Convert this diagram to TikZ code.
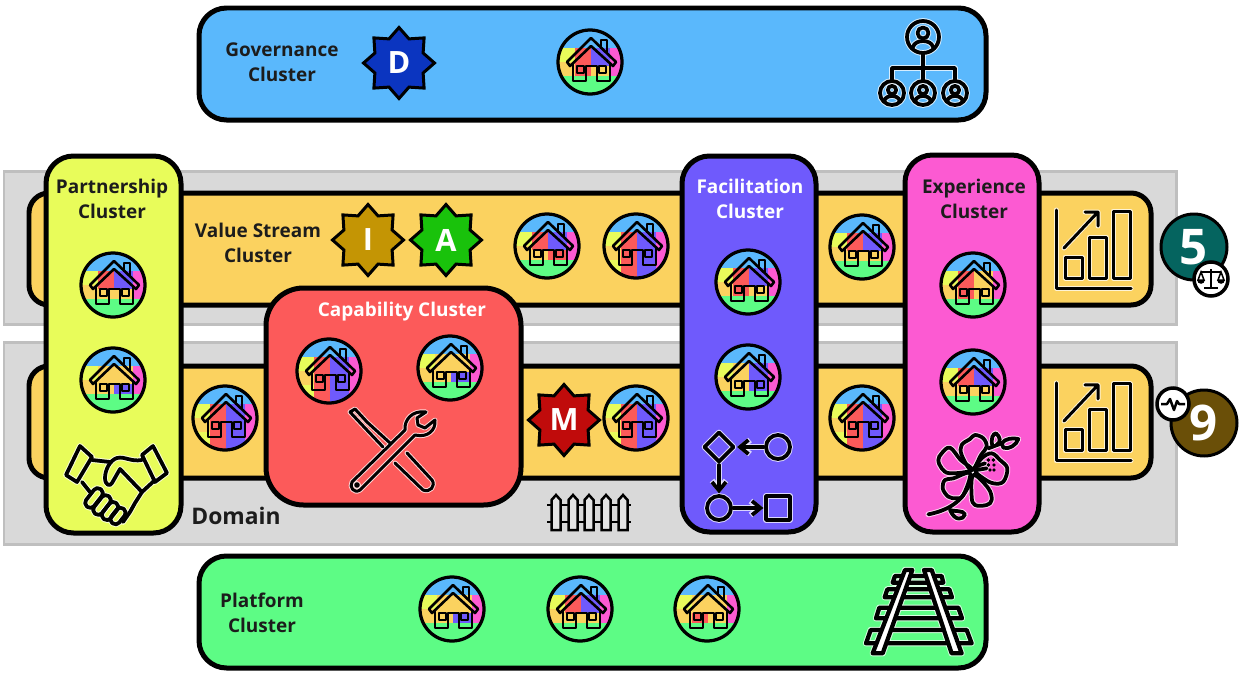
\documentclass[tikz,border=0pt]{standalone}
\usepackage{fontspec}
\setmainfont{Open Sans}
\usepackage{xcolor}
\usetikzlibrary{arrows.meta,shapes.geometric}
\definecolor{bluex}{HTML}{5AB8FC}
\definecolor{orangex}{HTML}{FBD25F}
\definecolor{yellowx}{HTML}{E8FC5A}
\definecolor{redx}{HTML}{FC5A5A}
\definecolor{purplex}{HTML}{6F5AFC}
\definecolor{pinkx}{HTML}{FC5AD2}
\definecolor{greenx}{HTML}{5DFC85}
\definecolor{greyx}{HTML}{D9D9D9}
\definecolor{greyline}{HTML}{BFBFBF}
\definecolor{inkx}{HTML}{1C1C1C}
\definecolor{badgeblue}{HTML}{0B35C0}
\definecolor{badgegold}{HTML}{C49504}
\definecolor{badgegreen}{HTML}{19C20B}
\definecolor{badgered}{HTML}{C00B0B}
\definecolor{fiveteal}{HTML}{05645F}
\definecolor{ninebrown}{HTML}{6A4F08}
\tikzset{
  domainbox/.style={draw=greyline,line width=0.06cm,fill=greyx},
  stream/.style={draw=black,line width=0.1cm,fill=orangex,rounded corners=0.4cm},
  cluster/.style={draw=black,line width=0.1cm,rounded corners=0.55cm},
  houseline/.style={draw=black,line width=0.052cm,line join=round},
  halo/.style={draw=white,draw opacity=.75,line join=round,line cap=round},
  iconline/.style={draw=black,line join=round,line cap=round},
  label/.style={font=\bfseries\fontsize{10.8}{14}\selectfont,text=inkx,align=center,inner sep=0pt},
  whitelabel/.style={label,text=white},
  badge/.style={star,star points=8,star point ratio=1.36,draw=black,line width=0.06cm,
    minimum size=1.42cm,inner sep=0pt,text=white,font=\bfseries\fontsize{17.5}{20}\selectfont},
  number/.style={circle,draw=black,line width=0.06cm,minimum size=1.32cm,inner sep=0pt,
    text=white,font=\bfseries\fontsize{28}{30}\selectfont},
  minibadge/.style={circle,draw=black,line width=0.07cm,fill=white,inner sep=0pt},
  procbox/.style={inner sep=0pt,outer sep=0.05cm},
  procarrow/.style={-{Straight Barb[length=1.7mm,width=2.8mm]}}
}
% white rim first, black line over it
\newcommand{\tmicon}[2][0.06cm]{%
  \begin{scope}[halo,line width=#1+0.04cm]#2\end{scope}%
  \begin{scope}[iconline,line width=#1]#2\end{scope}}
\newcommand{\tmlineart}{%
  \draw[houseline,line width=0.065cm] (0,0) circle (32);
  \draw[houseline] (-23,0)--(1,-24)--(26,0)--(23,4)--(1,-16)--(-20,4)--cycle;
  \draw[houseline] (-17,2)--(-17,19)--(-4,19)--(-4,4)--(7,4)--(7,19)--(20,19)--(20,2);
  \draw[houseline] (-13,4) rectangle (-6,11) (9,4) rectangle (16,11);
  \draw[houseline] (11,-13)--(11,-22)--(17,-22)--(17,-8);
}
\newcommand{\tmbase}{%
  \fill[bluex] (-34,-34) rectangle (34,-14);
  \fill[yellowx] (-34,-14) rectangle (-15,0);
  \fill[orangex] (-34,0) rectangle (-15,14);
  \fill[pinkx] (20,-14) rectangle (34,14);
}
% house badge: position, then colours of the four parts of the house
\newcommand{\tmhouse}[5]{%
  \begin{scope}[shift={(#1)}]
  \begin{scope}
    \clip (0,0) circle (32);
    \tmbase
    \fill[#2] (-15,-14) rectangle (1,4);
    \fill[#3] (1,-14) rectangle (20,4);
    \fill[#4] (-15,4) rectangle (1,14);
    \fill[#5] (1,4) rectangle (20,14);
    \fill[greenx] (-34,14) rectangle (34,34);
  \end{scope}
  \tmlineart
  \end{scope}
}
% same, with the two halves running to the foot of the circle
\newcommand{\tmtallhouse}[3]{%
  \begin{scope}[shift={(#1)}]
  \begin{scope}
    \clip (0,0) circle (32);
    \tmbase
    \fill[yellowx] (-34,14) rectangle (-15,34);
    \fill[pinkx] (20,14) rectangle (34,34);
    \fill[#2] (-15,-14) rectangle (1,34);
    \fill[#3] (1,-14) rectangle (20,34);
  \end{scope}
  \tmlineart
  \end{scope}
}
\newcommand{\tmchart}{%
  \tmicon{
    \draw (1056,210)--(1056,288)--(1131,288);
    \draw (1065,257) rectangle (1082,278);
    \draw (1089,237) rectangle (1106,278);
    \draw (1113,211) rectangle (1130,278);
    \draw (1064,248)--(1097,213) (1085,212)--(1098,212)--(1098,226);
  }
}
\newcommand{\tmperson}[2]{%
  \begin{scope}[shift={(#1)},scale=#2]
    \draw (0,0) circle (16);
    \draw (0,-4) circle (5.5);
    \draw (-10,10) .. controls (-8,2) and (8,2) .. (10,10);
  \end{scope}
}
\begin{document}
\begin{tikzpicture}[x=0.02cm,y=-0.02cm]
\useasboundingbox (0,0) rectangle (1241,676);
\fill[white] (0,0) rectangle (1241,676);
% domains
\draw[domainbox] (4,171) rectangle (1176,324);
\draw[domainbox] (4,342) rectangle (1176,544);
% streams
\draw[stream] (29,193) rectangle (1151,305);
\draw[stream] (29,366) rectangle (1151,478);
% clusters
\draw[cluster,fill=bluex] (199,8) rectangle (986,120);
\draw[cluster,fill=greenx] (199,556) rectangle (986,668);
\draw[cluster,fill=yellowx] (46,156) rectangle (181,533);
\draw[cluster,fill=redx,rounded corners=0.75cm] (266,288) rectangle (521,505);
\draw[cluster,fill=purplex] (682,156) rectangle (816,532);
\draw[cluster,fill=pinkx] (905,155) rectangle (1039,532);
% labels
\node[label] (govlabel) at (282,62) {Governance\\Cluster};
\node[label] (partlabel) at (112,199) {Partnership\\Cluster};
\node[label] (vslabel) at (258,243) {Value Stream\\Cluster};
\node[whitelabel] (caplabel) at (402,312) {Capability Cluster};
\node[whitelabel] (faclabel) at (750,199) {Facilitation\\Cluster};
\node[label] (explabel) at (974,199) {Experience\\Cluster};
\node[label] (platlabel) at (262,613) {Platform\\Cluster};
\node[label,font=\bfseries\fontsize{13}{16}\selectfont] (domlabel) at (236,516) {Domain};
% houses
\tmhouse{590,62}{redx}{purplex}{redx}{orangex}
\tmhouse{113,285}{redx}{purplex}{orangex}{orangex}
\tmhouse{113,380}{orangex}{orangex}{orangex}{purplex}
\tmhouse{547,246}{redx}{purplex}{orangex}{redx}
\tmtallhouse{636,246}{redx}{purplex}
\tmhouse{862,247}{redx}{purplex}{orangex}{orangex}
\tmtallhouse{225,418}{redx}{purplex}
\tmtallhouse{329,371}{redx}{purplex}
\tmhouse{450,368}{orangex}{orangex}{orangex}{purplex}
\tmtallhouse{636,418}{redx}{purplex}
\tmtallhouse{862,418}{redx}{purplex}
\tmhouse{748,282}{redx}{purplex}{redx}{orangex}
\tmhouse{748,377}{orangex}{purplex}{orangex}{purplex}
\tmhouse{973,285}{redx}{orangex}{redx}{orangex}
\tmhouse{973,382}{redx}{purplex}{orangex}{orangex}
\tmhouse{452,609}{orangex}{orangex}{orangex}{purplex}
\tmhouse{580,609}{redx}{purplex}{orangex}{orangex}
\tmhouse{707,609}{orangex}{orangex}{redx}{orangex}
% badges
\node[badge,fill=badgeblue] (badgeD) at (399,63) {D};
\node[badge,fill=badgegold] (badgeI) at (368,240) {I};
\node[badge,fill=badgegreen] (badgeA) at (446,240) {A};
\node[badge,fill=badgered] (badgeM) at (564,420) {M};
\node[number,fill=fiveteal] (numfive) at (1194,247) {5};
\node[number,fill=ninebrown] (numnine) at (1204,423) {9};
\node[minibadge,minimum size=0.68cm] (scales) at (1211,279) {};
\node[minibadge,minimum size=0.64cm] (pulse) at (1173,404) {};
% scales
\draw[line width=0.03cm] (1211,269)--(1211,288) (1204,288)--(1218,288) (1201,272)--(1221,272);
\draw[line width=0.03cm] (1201,272)--(1198,280)--(1204,280)--cycle (1221,272)--(1218,280)--(1224,280)--cycle;
\draw[line width=0.03cm,fill=black] (1198,280) arc (180:0:3) (1218,280) arc (180:0:3);
% pulse line
\draw[line width=0.05cm,line join=round] (1161,404)--(1167,404)--(1170,399)--(1174,410)--(1177,401)--(1179,404)--(1185,404);
% org chart
\tmicon[0.075cm]{
  \tmperson{923,37}{1}
  \tmperson{892,93}{.75}
  \tmperson{923,93}{.75}
  \tmperson{955,93}{.75}
  \draw (923,53)--(923,81) (892,81)--(892,68)--(955,68)--(955,81);
}
% charts
\tmchart
\begin{scope}[yshift=-3.46cm]\tmchart\end{scope}
% handshake
\tmicon[0.075cm]{
  \draw (80,446)--(92,457)--(77,482)--(66,475)--cycle;
  \draw (153,446)--(142,455)--(155,482)--(167,473)--cycle;
  \draw (92,460)--(110,462) (82,482)--(90,492);
  \draw (142,460) .. controls (130,462) and (125,456) .. (117,458) .. controls (110,460) and (105,470) .. (105,478)
    .. controls (105,485) and (110,487) .. (112,483)--(120,469)--(142,492)--(155,480);
  \draw (142,492)--(135,503)--(130,512)--(123,522);
  \draw[rounded corners=0.09cm,rotate around={52:(94,498)}] (83,493) rectangle (105,503);
  \draw[rounded corners=0.09cm,rotate around={52:(102,505)}] (91,500) rectangle (113,510);
  \draw[rounded corners=0.09cm,rotate around={52:(110,511)}] (100,506) rectangle (120,516);
  \draw[rounded corners=0.09cm,rotate around={52:(118,516)}] (109,511) rectangle (127,521);
}
% tools
\tmicon{
  \draw (350,412)--(355,409)--(367,422)--(390,443) (350,412)--(365,428)--(383,447);
  \draw (407,453)--(432,480) .. controls (436,486) and (430,493) .. (423,490)--(395,463);
  \draw (352,482)--(405,430) .. controls (404,420) and (412,410) .. (426,412)--(417,418)--(418,425)--(425,428)--(435,420)
    .. controls (436,430) and (428,438) .. (415,435)--(360,490) .. controls (354,494) and (349,487) .. (352,482)--cycle;
  \draw (357,485) circle (1.5);
}
% process
\tmicon[0.075cm]{
  \node[procbox,draw,diamond,minimum size=0.62cm] (procA) at (719,447) {};
  \node[procbox,draw,circle,minimum size=0.48cm] (procB) at (778,447) {};
  \node[procbox,draw,circle,minimum size=0.48cm] (procC) at (719,508) {};
  \node[procbox,draw,minimum size=0.48cm] (procD) at (778,508) {};
  \draw[procarrow] (procB)--(procA);
  \draw[procarrow] (procA)--(procC);
  \draw[procarrow] (procC)--(procD);
}
% flower
\begin{scope}[shift={(920,425)},scale=1/3]
\tmicon[0.075cm]{
  \draw plot[smooth cycle,tension=.6] coordinates {(155,135) (125,90) (125,60) (150,42) (165,30) (190,40) (200,65) (183,90)};
  \draw plot[smooth cycle,tension=.6] coordinates {(155,135) (122,105) (90,68) (65,85) (55,105) (65,130) (90,145)};
  \draw plot[smooth cycle,tension=.6] coordinates {(150,145) (100,160) (75,165) (68,190) (85,215) (110,220) (130,210)};
  \draw plot[smooth cycle,tension=.6] coordinates {(160,150) (155,215) (165,240) (200,240) (215,225) (205,190)};
  \draw plot[smooth cycle,tension=.6] coordinates {(165,135) (185,100) (215,85) (240,105) (262,130) (250,170) (220,175) (190,160)};
  \draw (165,125)--(195,115) (170,135)--(200,130);
  \draw (25,268) .. controls (75,258) and (130,235) .. (150,170);
  \draw (90,255) .. controls (100,260) and (130,255) .. (135,268) .. controls (130,285) and (105,290) .. (90,255);
  \draw (205,70)--(245,55);
  \draw (218,65) .. controls (210,40) and (220,25) .. (228,25) .. controls (240,35) and (245,50) .. (230,60);
  \draw (245,55) .. controls (255,40) and (280,38) .. (295,42) .. controls (290,60) and (265,75) .. (250,68)--cycle;
  \foreach \px/\py in {205/105,220/105,205/120,222/120,210/135,222/135} {\fill (\px,\py) circle (5);}
}
\end{scope}
% fence
\foreach \fx in {556,573,589,606,623} {
  \draw[line width=0.05cm,fill=greyx!70!white] (\fx-4.5,530)--(\fx-4.5,500)--(\fx,495)--(\fx+4.5,500)--(\fx+4.5,530)--cycle;
}
\draw[line width=0.045cm] (547,505)--(551,505) (561,505)--(568,505) (578,505)--(584,505) (594,505)--(601,505) (611,505)--(618,505) (628,505)--(631,505);
\draw[line width=0.045cm] (547,522)--(551,522) (561,522)--(568,522) (578,522)--(584,522) (594,522)--(601,522) (611,522)--(618,522) (628,522)--(631,522);
% rails
\begin{scope}[shift={(850,560)},scale=1/3]
\tmicon[0.085cm]{
  \draw (135,48)--(275,48)--(280,68)--(128,68)--cycle;
  \draw (112,88)--(298,88)--(306,112)--(104,112)--cycle;
  \draw (88,143)--(325,143)--(336,175)--(78,175)--cycle;
  \draw (62,210)--(350,210)--(365,250)--(48,250)--cycle;
  \draw[fill=white] (68,280)--(165,30)--(187,30)--(98,280)--cycle;
  \draw[fill=white] (305,280)--(222,30)--(245,30)--(335,280)--cycle;
}
\end{scope}
\end{tikzpicture}
\end{document}
